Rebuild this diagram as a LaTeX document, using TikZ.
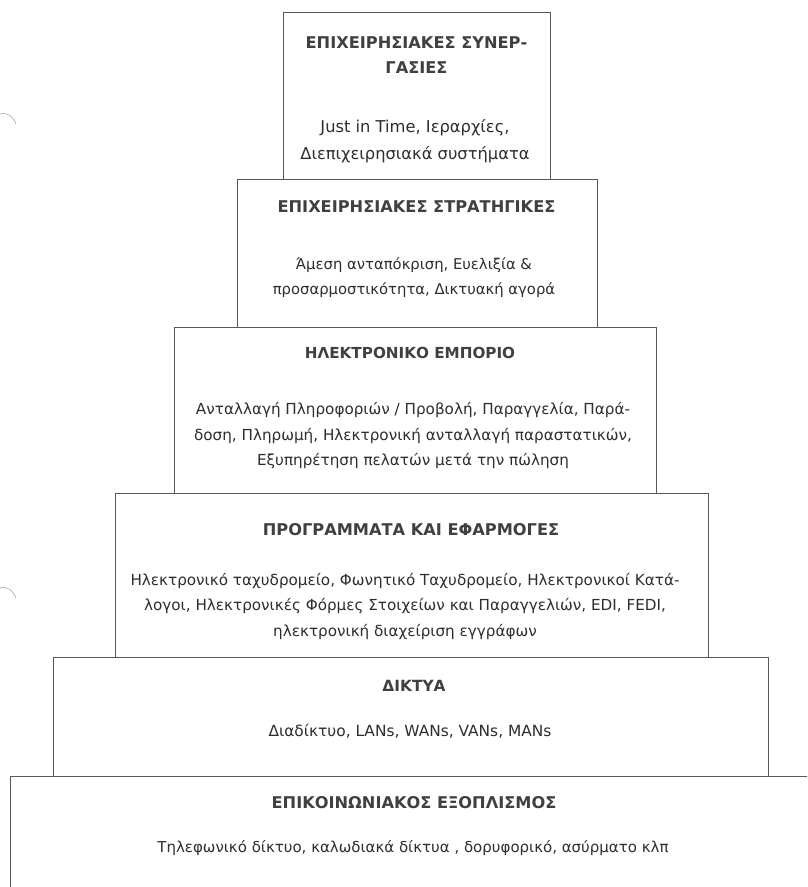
\documentclass[tikz,border=0pt]{standalone}
\usepackage{fontspec}
\setmainfont{DejaVu Sans}
\begin{document}
\begin{tikzpicture}[x=1pt,y=-1pt,
  layer/.style={draw=black!65, line width=0.9pt, rectangle, inner sep=0pt},
  ttl/.style={font=\fontsize{16.2}{25}\selectfont\bfseries, text=black!75, align=center, inner sep=0pt},
  bdy/.style={font=\fontsize{15.2}{25.5}\selectfont, text=black!82, align=center, inner sep=0pt},
  scanmark/.style={draw=black!35, line width=0.6pt}]
\clip (0,0) rectangle (807,887);
\fill[white] (0,0) rectangle (807,887);
% scan marks on the left edge
\draw[scanmark] (0,114) .. controls (7,112) and (13,116) .. (16,124);
\draw[scanmark] (0,588) .. controls (7,586) and (13,590) .. (16,598);
% layers
\node[layer, minimum width=267pt, minimum height=167pt] (l1) at (416.5,95.5) {};
\node[layer, minimum width=360pt, minimum height=148pt] (l2) at (417,253) {};
\node[layer, minimum width=482pt, minimum height=166pt] (l3) at (415,410) {};
\node[layer, minimum width=593pt, minimum height=164pt] (l4) at (411.5,575) {};
\node[layer, minimum width=715pt, minimum height=119pt] (l5) at (410.5,716.5) {};
\node[layer, minimum width=840pt, minimum height=174pt] (l6) at (430,863) {};
% texts
\node[ttl] (t1) at (416.5,55.5) {ΕΠΙΧΕΙΡΗΣΙΑΚΕΣ ΣΥΝΕΡ-\\ΓΑΣΙΕΣ};
\node[bdy, font=\fontsize{16.3}{26.5}\selectfont] (b1) at (415,141) {Just in Time, Ιεραρχίες,\\Διεπιχειρησιακά συστήματα};
\node[ttl] (t2) at (416.5,207) {ΕΠΙΧΕΙΡΗΣΙΑΚΕΣ ΣΤΡΑΤΗΓΙΚΕΣ};
\node[bdy, font=\fontsize{14.8}{25.5}\selectfont] (b2) at (414,277.5) {Άμεση ανταπόκριση, Ευελιξία \&\\προσαρμοστικότητα, Δικτυακή αγορά};
\node[ttl, font=\fontsize{15.2}{25}\selectfont\bfseries] (t3) at (410,353) {ΗΛΕΚΤΡΟΝΙΚΟ ΕΜΠΟΡΙΟ};
\node[bdy] (b3) at (413,436) {Ανταλλαγή Πληροφοριών / Προβολή, Παραγγελία, Παρά-\\δοση, Πληρωμή, Ηλεκτρονική ανταλλαγή παραστατικών,\\Εξυπηρέτηση πελατών μετά την πώληση};
\node[ttl] (t4) at (411,530) {ΠΡΟΓΡΑΜΜΑΤΑ ΚΑΙ ΕΦΑΡΜΟΓΕΣ};
\node[bdy] (b4) at (405,606) {Ηλεκτρονικό ταχυδρομείο, Φωνητικό Ταχυδρομείο, Ηλεκτρονικοί Κατά-\\λογοι, Ηλεκτρονικές Φόρμες Στοιχείων και Παραγγελιών, EDI, FEDI,\\ηλεκτρονική διαχείριση εγγράφων};
\node[ttl, font=\fontsize{15.4}{25}\selectfont\bfseries] (t5) at (414,686) {ΔΙΚΤΥΑ};
\node[bdy, font=\fontsize{15.4}{25.5}\selectfont] (b5) at (410,731) {Διαδίκτυο, LANs, WANs, VANs, MANs};
\node[ttl] (t6) at (414,803) {ΕΠΙΚΟΙΝΩΝΙΑΚΟΣ ΕΞΟΠΛΙΣΜΟΣ};
\node[bdy, font=\fontsize{15}{25.5}\selectfont] (b6) at (413,848) {Τηλεφωνικό δίκτυο, καλωδιακά δίκτυα , δορυφορικό, ασύρματο κλπ};
\end{tikzpicture}
\end{document}
